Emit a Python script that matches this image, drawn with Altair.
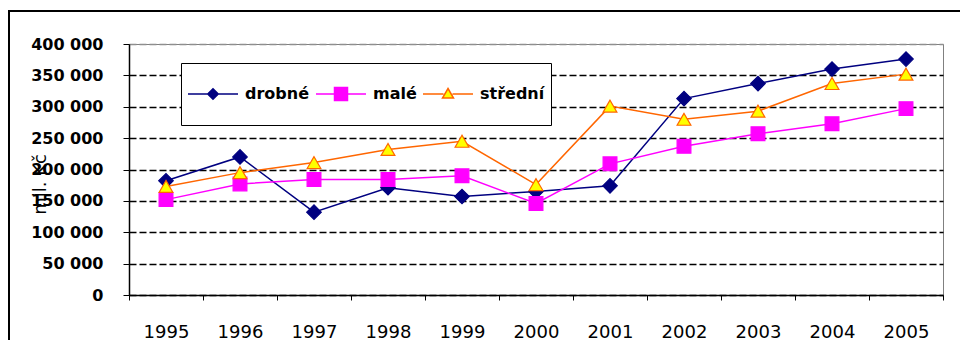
import altair as alt
import pandas as pd

years = ["1995", "1996", "1997", "1998", "1999", "2000", "2001", "2002", "2003", "2004", "2005"]
drobne = [182000, 220000, 132000, 171000, 157000, 165000, 174000, 313000, 337000, 360000, 376000]
male = [152000, 177000, 184000, 184000, 190000, 146000, 209000, 237000, 257000, 273000, 297000]
stredni = [173000, 195000, 211000, 232000, 245000, 176000, 301000, 280000, 293000, 337000, 352000]
series = ["drobné", "malé", "střední"]
y_ticks = [0, 50000, 100000, 150000, 200000, 250000, 300000, 350000, 400000]

stroke_colors = ["#000080", "#FF00FF", "#FF6600"]
fill_colors = ["#000080", "#FF00FF", "#FFFF00"]
shapes = ["diamond", "square", "triangle-up"]
sizes = [210, 190, 190]
legend_paths = [
    "M-1,0H-0.21M0.21,0H1M0,-0.21L0.21,0L0,0.21L-0.21,0Z",
    "M-1,0H-0.26M0.26,0H1M-0.26,-0.26H0.26V0.26H-0.26Z",
    "M-1,0H-0.18M0.18,0H1M0,-0.22L0.22,0.16H-0.22Z",
]

rows = []
for name, vals in zip(series, [drobne, male, stredni]):
    for yr, v in zip(years, vals):
        rows.append({"year": yr, "series": name, "value": v})
df = pd.DataFrame(rows)

FONT = "DejaVu Sans"

x_enc = alt.X(
    "year:O",
    sort=years,
    scale=alt.Scale(type="band", paddingInner=0, paddingOuter=0),
    axis=alt.Axis(
        title=None, labelAngle=0, tickBand="extent", tickSize=5, tickColor="black",
        domainColor="black", domainWidth=1.5, labelFont=FONT, labelFontSize=18,
        labelColor="black", labelPadding=23, grid=False,
    ),
)
y_enc = alt.Y(
    "value:Q",
    scale=alt.Scale(domain=[0, 400000], nice=False),
    axis=alt.Axis(
        values=y_ticks,
        labelExpr="replace(format(datum.value, ','), ',', ' ')",
        labelFont=FONT, labelFontWeight="bold", labelFontSize=16, labelColor="black",
        labelPadding=20, tickSize=6, tickColor="black", domainColor="black", domainWidth=1.5,
        grid=True, gridDash=[7, 3], gridWidth=1.5,
        gridColor={"condition": {"test": "datum.value >= 400000", "value": "#909090"}, "value": "black"},
        title="mil. Kč", titleX=-89, titleY=140, titleAngle=270, titleFont=FONT,
        titleFontSize=18, titleFontWeight="normal", titleColor="black",
        titleAlign="center", titleBaseline="middle",
    ),
)

frame = alt.Chart(pd.DataFrame({"f": [0]})).mark_rect(
    fillOpacity=0, stroke="black", strokeWidth=2
).encode(x=alt.value(-120), x2=alt.value(900), y=alt.value(-33), y2=alt.value(400))

layers = [frame]
for name, sc in zip(series, stroke_colors):
    layers.append(
        alt.Chart(df).transform_filter(alt.datum.series == name)
        .mark_line(color=sc, strokeWidth=1.5).encode(x=x_enc, y=y_enc)
    )
for name, sc, fc, sh, sz in zip(series, stroke_colors, fill_colors, shapes, sizes):
    layers.append(
        alt.Chart(df).transform_filter(alt.datum.series == name)
        .mark_point(shape=sh, filled=True, fill=fc, stroke=sc, strokeWidth=1.2, size=sz, opacity=1)
        .encode(x=x_enc, y=y_enc)
    )

leg = alt.Legend(
    title=None, orient="none", legendX=52, legendY=19, direction="horizontal",
    symbolSize=2500, symbolStrokeWidth=1.5, labelFont=FONT, labelFontSize=16,
    labelFontWeight="bold", labelColor="black", labelOffset=6, columnPadding=5,
    padding=6, clipHeight=50, strokeColor="black", fillColor="white", symbolOpacity=1,
)
legend_layer = alt.Chart(df).transform_filter("false").mark_point(filled=False).encode(
    shape=alt.Shape("series:N", scale=alt.Scale(domain=series, range=legend_paths), legend=leg),
    color=alt.Color("series:N", scale=alt.Scale(domain=series, range=stroke_colors), legend=leg),
    fill=alt.Fill("series:N", scale=alt.Scale(domain=series, range=fill_colors), legend=leg),
)
layers.append(legend_layer)

chart = alt.layer(*layers).properties(
    width=814, height=251,
    autosize=alt.AutoSizeParams(type="none"),
    padding={"left": 129, "top": 44, "right": 17, "bottom": 45},
    background="white",
).configure_view(stroke="#808080", strokeWidth=1)

chart.save("out.html", embed_options={"renderer": "svg", "actions": False})
